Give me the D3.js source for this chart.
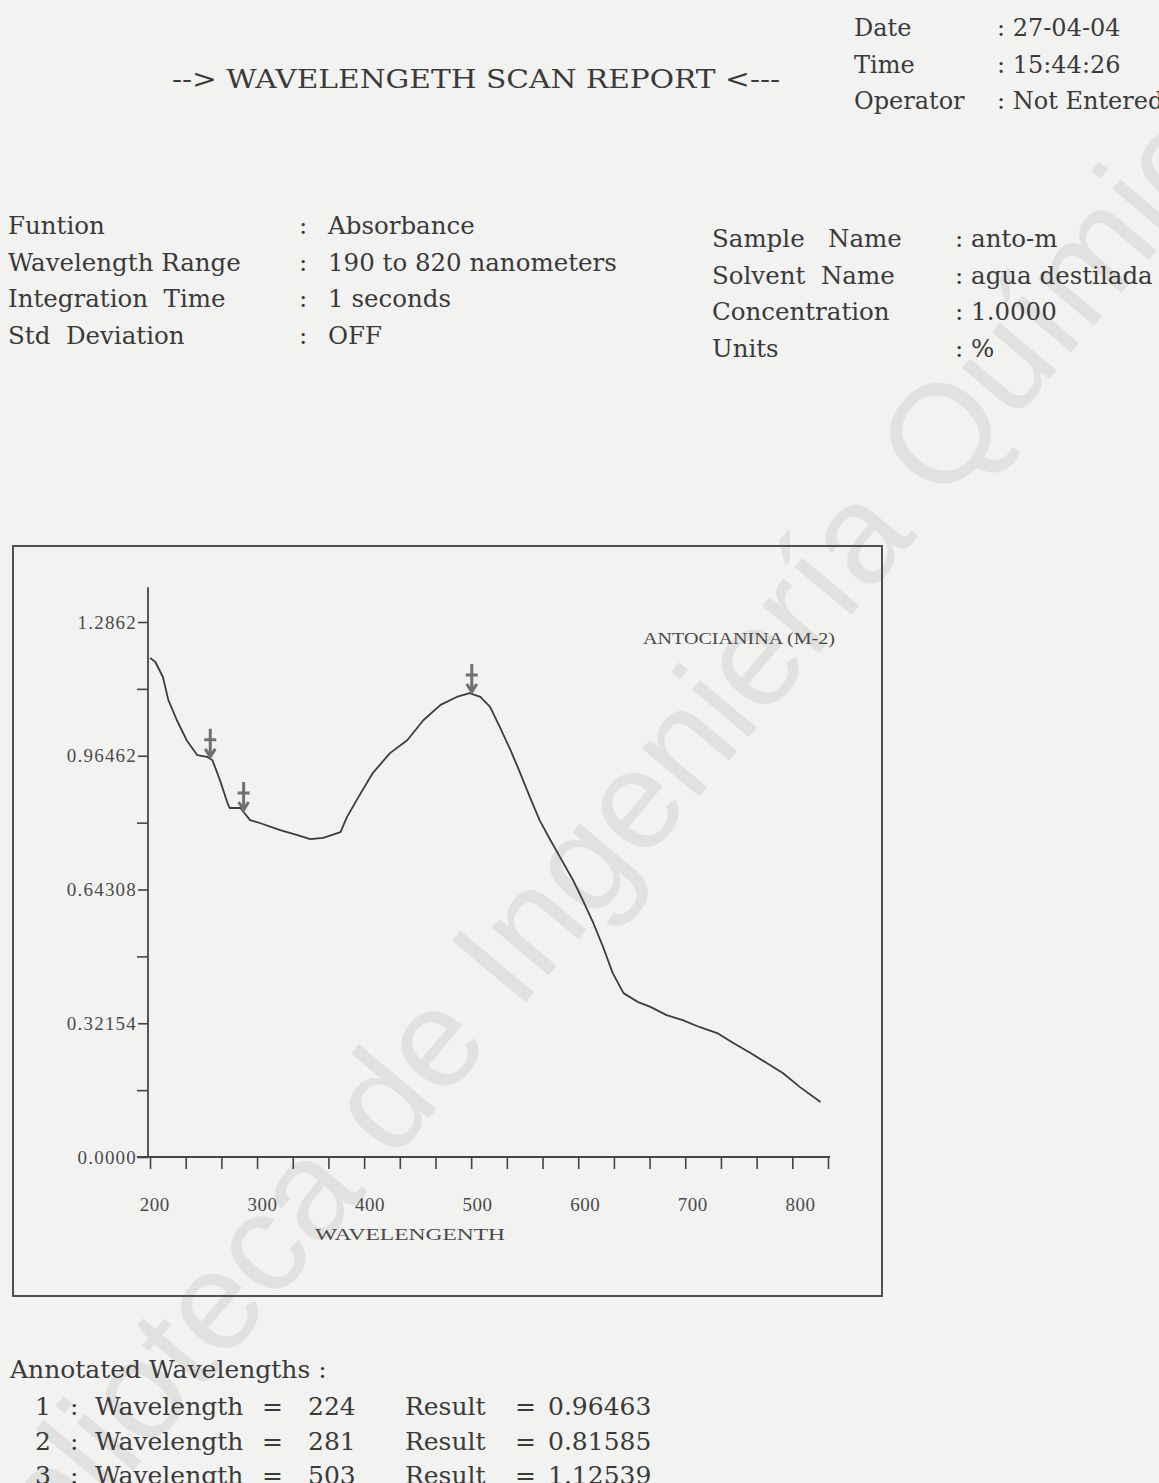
<!DOCTYPE html>
<html>
<head>
<meta charset="utf-8">
<script src="https://cdnjs.cloudflare.com/ajax/libs/d3/7.8.5/d3.min.js"></script>
<style>
    html, body { margin: 0; padding: 0; background: #f2f2f0; overflow: hidden; }
    svg { display: block; }
    .doc { font-family: "DejaVu Serif", "Liberation Serif", serif; fill: #3a3a3a; }
    .plot { font-family: "Liberation Serif", serif; fill: #4a4a4a; }
</style>
</head>
<body>
<svg id="page"></svg>
<script>
// scan values
const wavelengths = [190, 195, 202, 207, 215, 224, 234, 243, 248, 255, 262, 264, 274, 283, 292,
    311, 327, 339, 351, 367, 373, 382, 397, 413, 429, 444, 460, 475, 487, 497, 506, 515, 525,
    534, 543, 552, 562, 571, 583, 592, 602, 611, 620, 630, 643, 655, 670, 685, 701, 717, 732,
    748, 763, 778, 794, 813];
const absorbance = [1.200, 1.190, 1.154, 1.099, 1.050, 1.002, 0.966, 0.962, 0.954, 0.906, 0.851,
    0.839, 0.839, 0.810, 0.803, 0.786, 0.774, 0.764, 0.767, 0.781, 0.817, 0.858, 0.923, 0.971,
    1.002, 1.050, 1.087, 1.106, 1.115, 1.106, 1.082, 1.034, 0.978, 0.923, 0.865, 0.810, 0.762,
    0.721, 0.666, 0.618, 0.562, 0.505, 0.442, 0.394, 0.373, 0.361, 0.341, 0.329, 0.312, 0.298,
    0.274, 0.250, 0.226, 0.202, 0.168, 0.132];

// where the peak-pick arrows sit on the trace
const markerWavelengths = [246, 277, 489];

const yTickValues = [0, 0.32154, 0.64308, 0.96462, 1.2862];
const yTickLabels = ["0.0000", "0.32154", "0.64308", "0.96462", "1.2862"];
const yMinorTicks = [0.16077, 0.48231, 0.80385, 1.12539];
const xLabelValues = [200, 300, 400, 500, 600, 700, 800];
const xTickCount = 20;

const annIndex = [1, 2, 3];
const annWavelength = [224, 281, 503];
const annResult = ["0.96463", "0.81585", "1.12539"];

const leftInfoLabels = ["Funtion", "Wavelength Range", "Integration  Time", "Std  Deviation"];
const leftInfoValues = ["Absorbance", "190 to 820 nanometers", "1 seconds", "OFF"];
const rightInfoLabels = ["Sample   Name", "Solvent  Name", "Concentration", "Units"];
const rightInfoValues = ["anto-m", "agua destilada", "1.0000", "%"];
const headLabels = ["Date", "Time", "Operator"];
const headValues = ["27-04-04", "15:44:26", "Not Entered"];

const W = 1159, H = 1483;
const svg = d3.select("#page").attr("width", W).attr("height", H);

let xScale, yScale;

drawWatermark();
drawHeader();
drawInfo();
drawChart();
drawAnnotations();

function drawWatermark() {
    svg.append("text")
        .attr("transform", "translate(590,850) rotate(-50)")
        .attr("text-anchor", "middle")
        .attr("dy", "0.35em")
        .style("font-family", "'Liberation Sans', Arial, sans-serif")
        .style("font-size", "140px")
        .style("fill", "#e1e1e0")
        .text("Biblioteca de Ingeniería Química");
}

function drawHeader() {
    svg.append("text")
        .attr("class", "doc")
        .attr("x", 172)
        .attr("y", 88)
        .attr("textLength", 608)
        .attr("lengthAdjust", "spacingAndGlyphs")
        .style("font-size", "26px")
        .text("--> WAVELENGETH SCAN REPORT <---");

    const g = svg.append("g").attr("class", "doc").style("font-size", "24px");
    headLabels.forEach(function(d, i) {
        g.append("text").attr("x", 854).attr("y", 36 + i * 36.5).text(d);
        g.append("text").attr("x", 997).attr("y", 36 + i * 36.5).text(": " + headValues[i]);
    });
}

function drawInfo() {
    const g = svg.append("g").attr("class", "doc").style("font-size", "24.5px");
    leftInfoLabels.forEach(function(d, i) {
        const yy = 234 + i * 36.5;
        g.append("text").attr("x", 8).attr("y", yy).style("white-space", "pre").text(d);
        g.append("text").attr("x", 299).attr("y", yy).text(":");
        g.append("text").attr("x", 328).attr("y", yy).text(leftInfoValues[i]);
    });
    rightInfoLabels.forEach(function(d, i) {
        const yy = 247 + i * 36.7;
        g.append("text").attr("x", 712).attr("y", yy).style("white-space", "pre").text(d);
        g.append("text").attr("x", 955).attr("y", yy).text(": " + rightInfoValues[i]);
    });
}

function drawChart() {
    const chart = svg.append("g").attr("class", "plot");

    chart.append("rect")
        .attr("x", 13).attr("y", 546)
        .attr("width", 869).attr("height", 750)
        .attr("fill", "none")
        .attr("stroke", "#505050")
        .attr("stroke-width", 2);

    xScale = d3.scaleLinear().domain([190, 820]).range([150, 828]);
    yScale = d3.scaleLinear().domain([0, 1.2862]).range([1157, 622]);

    // y axis: labelled major ticks plus unlabelled minor ones
    const yAxis = d3.axisLeft(yScale)
        .tickValues(yTickValues)
        .tickSize(10)
        .tickPadding(1)
        .tickFormat(function(d, i) { return yTickLabels[i]; });
    const gy = chart.append("g")
        .attr("transform", "translate(148,0)")
        .call(yAxis);
    gy.select(".domain").remove();
    gy.selectAll(".tick line").attr("stroke", "#444").attr("stroke-width", 1.6);
    gy.selectAll(".tick text")
        .style("font-family", "'Liberation Serif', serif")
        .style("font-size", "19px")
        .style("letter-spacing", "1.2px")
        .attr("fill", "#4a4a4a");

    const gyMinor = chart.append("g")
        .attr("transform", "translate(148,0)")
        .call(d3.axisLeft(yScale).tickValues(yMinorTicks).tickSize(11).tickFormat(""));
    gyMinor.select(".domain").remove();
    gyMinor.selectAll(".tick line").attr("stroke", "#444").attr("stroke-width", 1.6);

    chart.append("line")
        .attr("x1", 148).attr("x2", 148)
        .attr("y1", yScale(1.37)).attr("y2", yScale(0))
        .attr("stroke", "#444").attr("stroke-width", 1.8);

    // x axis: 20 evenly spaced ticks across the scan range
    const xTicks = d3.range(xTickCount).map(function(k) {
        return 190 + k * (820 - 190) / (xTickCount - 1);
    });
    const gx = chart.append("g")
        .attr("transform", "translate(0," + yScale(0) + ")")
        .call(d3.axisBottom(xScale).tickValues(xTicks).tickSize(12).tickFormat(""));
    gx.select(".domain").remove();
    gx.selectAll(".tick line").attr("stroke", "#444").attr("stroke-width", 1.6);

    chart.append("line")
        .attr("x1", 137).attr("x2", xScale(820) + 2)
        .attr("y1", yScale(0)).attr("y2", yScale(0))
        .attr("stroke", "#444").attr("stroke-width", 2);

    chart.selectAll(".xlab")
        .data(xLabelValues)
        .enter().append("text")
        .attr("class", "xlab plot")
        .attr("x", function(d) { return xScale(d) - 6; })
        .attr("y", 1211)
        .attr("text-anchor", "middle")
        .style("font-size", "19px")
        .style("letter-spacing", "0.5px")
        .text(function(d) { return d; });

    chart.append("text")
        .attr("class", "plot")
        .attr("x", 315).attr("y", 1240)
        .attr("textLength", 190)
        .attr("lengthAdjust", "spacingAndGlyphs")
        .style("font-size", "17px")
        .text("WAVELENGENTH");

    chart.append("text")
        .attr("class", "plot")
        .attr("x", 643).attr("y", 644)
        .attr("textLength", 192)
        .attr("lengthAdjust", "spacingAndGlyphs")
        .style("font-size", "16px")
        .text("ANTOCIANINA (M-2)");

    const line = d3.line()
        .x(function(d, i) { return xScale(wavelengths[i]); })
        .y(function(d) { return yScale(d); });

    chart.append("path")
        .attr("d", line(absorbance))
        .attr("fill", "none")
        .attr("stroke", "#3c3c3c")
        .attr("stroke-width", 1.8)
        .attr("stroke-linejoin", "round");

    // arrows pointing down onto the trace
    markerWavelengths.forEach(function(w) {
        const j = d3.bisectLeft(wavelengths, w);
        const t = (w - wavelengths[j - 1]) / (wavelengths[j] - wavelengths[j - 1]);
        const a = absorbance[j - 1] + t * (absorbance[j] - absorbance[j - 1]);
        const mx = xScale(w), my = yScale(a) - 2;
        const m = chart.append("g")
            .attr("transform", "translate(" + mx + "," + my + ")")
            .attr("stroke", "#707070")
            .attr("stroke-width", 3)
            .attr("fill", "none");
        m.append("path").attr("d", "M0,-28 V0 M-6,-17 H6 M-5,-8 L0,0 L5,-8");
    });
}

function drawAnnotations() {
    const g = svg.append("g").attr("class", "doc").style("font-size", "25px");
    g.append("text").attr("x", 10).attr("y", 1378).text("Annotated Wavelengths :");
    annIndex.forEach(function(d, i) {
        const yy = 1415 + i * 34.5;
        g.append("text").attr("x", 35).attr("y", yy).text(d);
        g.append("text").attr("x", 70).attr("y", yy).text(":");
        g.append("text").attr("x", 95).attr("y", yy).text("Wavelength");
        g.append("text").attr("x", 262).attr("y", yy).text("=");
        g.append("text").attr("x", 308).attr("y", yy).text(annWavelength[i]);
        g.append("text").attr("x", 405).attr("y", yy).text("Result");
        g.append("text").attr("x", 515).attr("y", yy).text("=");
        g.append("text").attr("x", 548).attr("y", yy).text(annResult[i]);
    });
}
</script>
</body>
</html>
